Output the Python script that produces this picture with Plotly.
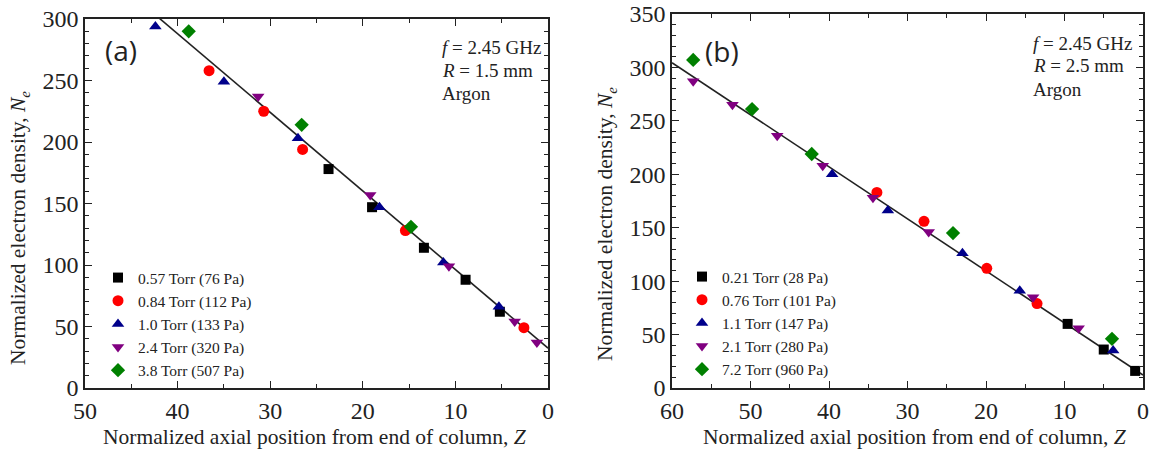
import plotly.graph_objects as go

# ---------------- Data: panel (a)  f=2.45 GHz, R=1.5 mm ----------------
a_labels = ["0.57 Torr (76 Pa)", "0.84 Torr (112 Pa)", "1.0 Torr (133 Pa)",
            "2.4 Torr (320 Pa)", "3.8 Torr (507 Pa)"]
a_z_1 = [23.7, 19.0, 13.4, 8.9, 5.2]
a_n_1 = [178, 147, 114, 88, 62]
a_z_2 = [36.6, 30.7, 26.5, 15.4, 2.6]
a_n_2 = [258, 225, 194, 128, 49]
a_z_3 = [42.4, 35.0, 27.0, 18.2, 11.3, 5.3]
a_n_3 = [294, 249, 203, 147, 102, 66]
a_z_4 = [31.3, 19.2, 10.7, 3.6, 1.2]
a_n_4 = [237, 157, 99, 54, 37]
a_z_5 = [38.8, 26.6, 14.8]
a_n_5 = [290, 214, 131]
a_fit_z = [0, 50]
a_fit_n = [32.4, 351.9]

# ---------------- Data: panel (b)  f=2.45 GHz, R=2.5 mm ----------------
b_labels = ["0.21 Torr (28 Pa)", "0.76 Torr (101 Pa)", "1.1 Torr (147 Pa)",
            "2.1 Torr (280 Pa)", "7.2 Torr (960 Pa)"]
b_z_1 = [9.6, 5.0, 1.0]
b_n_1 = [60, 36, 16]
b_z_2 = [33.9, 27.9, 19.9, 13.5]
b_n_2 = [183, 156, 112, 79]
b_z_3 = [39.6, 32.5, 23.0, 15.7, 3.8]
b_n_3 = [200, 166, 126, 91, 35]
b_z_4 = [57.3, 52.3, 46.6, 40.8, 34.4, 27.3, 14.0, 8.2]
b_n_4 = [287, 265, 236, 208, 178, 146, 85, 56]
b_z_5 = [57.3, 49.8, 42.2, 24.2, 3.95]
b_n_5 = [307, 261, 219, 145, 46]
b_fit_z = [0, 60]
b_fit_n = [12.2, 304.4]

colors = ["#000000", "#ff0000", "#00008b", "#800080", "#008000"]
symbols = ["square", "circle", "triangle-up", "triangle-down", "diamond"]
sizes = [10, 11, 11, 11, 11]

SERIF = "Liberation Serif"

fig = go.Figure()

a_sets = [(a_z_1, a_n_1), (a_z_2, a_n_2), (a_z_3, a_n_3), (a_z_4, a_n_4), (a_z_5, a_n_5)]
b_sets = [(b_z_1, b_n_1), (b_z_2, b_n_2), (b_z_3, b_n_3), (b_z_4, b_n_4), (b_z_5, b_n_5)]

fig.add_trace(go.Scatter(x=a_fit_z, y=a_fit_n, mode="lines", line=dict(color="#222222", width=1.6),
                         showlegend=False, xaxis="x", yaxis="y"))
fig.add_trace(go.Scatter(x=b_fit_z, y=b_fit_n, mode="lines", line=dict(color="#222222", width=1.6),
                         showlegend=False, xaxis="x2", yaxis="y2"))

for i, (zz, nn) in enumerate(a_sets):
    fig.add_trace(go.Scatter(x=zz, y=nn, mode="markers", name=a_labels[i],
                             marker=dict(color=colors[i], symbol=symbols[i], size=sizes[i]),
                             cliponaxis=False, xaxis="x", yaxis="y", legend="legend"))
for i, (zz, nn) in enumerate(b_sets):
    fig.add_trace(go.Scatter(x=zz, y=nn, mode="markers", name=b_labels[i],
                             marker=dict(color=colors[i], symbol=symbols[i], size=sizes[i]),
                             cliponaxis=False, xaxis="x2", yaxis="y2", legend="legend2"))

W, H = 1156, 459
def px(x):
    return x / W
def py(y):
    return 1 - y / H

axis_common = dict(showline=True, linecolor="#222222", linewidth=1.5, mirror="allticks",
                   ticks="inside", ticklen=7, tickwidth=1.3, tickcolor="#222222",
                   showgrid=False, zeroline=False, automargin=False,
                   tickfont=dict(family=SERIF, size=24, color="#222222"))

fig.update_layout(
    width=W, height=H,
    margin=dict(l=0, r=0, t=0, b=0, autoexpand=False),
    font=dict(family=SERIF),
    paper_bgcolor="white", plot_bgcolor="white",
    xaxis=dict(domain=[px(85), px(548)], range=[50, 0], dtick=10, anchor="y",
               minor=dict(dtick=5, ticks="inside", ticklen=4, tickcolor="#222222"), **axis_common),
    yaxis=dict(domain=[py(388), py(19)], range=[0, 300], dtick=50, anchor="x",
               minor=dict(dtick=10, ticks="inside", ticklen=4, tickcolor="#222222"), **axis_common),
    xaxis2=dict(domain=[px(672), px(1143)], range=[60, 0], dtick=10, anchor="y2",
                minor=dict(dtick=5, ticks="inside", ticklen=4, tickcolor="#222222"), **axis_common),
    yaxis2=dict(domain=[py(388), py(14)], range=[0, 350], dtick=50, anchor="x2",
                minor=dict(dtick=10, ticks="inside", ticklen=4, tickcolor="#222222"), **axis_common),
    legend=dict(x=px(98), y=py(261), xanchor="left", yanchor="top", bgcolor="rgba(0,0,0,0)",
                font=dict(family=SERIF, size=15.5, color="#222222"), tracegroupgap=0),
    legend2=dict(x=px(682), y=py(260), xanchor="left", yanchor="top", bgcolor="rgba(0,0,0,0)",
                 font=dict(family=SERIF, size=15.5, color="#222222"), tracegroupgap=0),
    showlegend=True,
)

annots = []
def add_text(x, y, text, size, family=SERIF, angle=0, xanchor="center"):
    annots.append(dict(x=px(x), y=py(y), xref="paper", yref="paper", text=text, showarrow=False,
                       xanchor=xanchor, yanchor="middle", textangle=angle,
                       font=dict(family=family, size=size, color="#222222")))

# panel labels
add_text(121, 50, "(a)", 28, family="Open Sans")
add_text(722, 51, "(b)", 28, family="Open Sans")
# condition annotations
for (x0, ys, r) in [(440, [48, 70, 94], "1.5"), (1031, [43, 65, 90], "2.5")]:
    add_text(x0, ys[0], "<i>f</i> = 2.45 GHz", 19, xanchor="left")
    add_text(x0, ys[1], "<i>R</i> = " + r + " mm", 19, xanchor="left")
    add_text(x0, ys[2], "Argon", 19, xanchor="left")
# axis titles
add_text(315, 437, "Normalized axial position from end of column, <i>Z</i>", 21.5)
add_text(915, 437, "Normalized axial position from end of column, <i>Z</i>", 21.5)
add_text(19, 228, "Normalized electron density, <i>N<sub>e</sub></i>", 21.5, angle=-90)
add_text(606, 224, "Normalized electron density, <i>N<sub>e</sub></i>", 21.5, angle=-90)

fig.update_layout(annotations=annots)
fig.write_html("out.html")
